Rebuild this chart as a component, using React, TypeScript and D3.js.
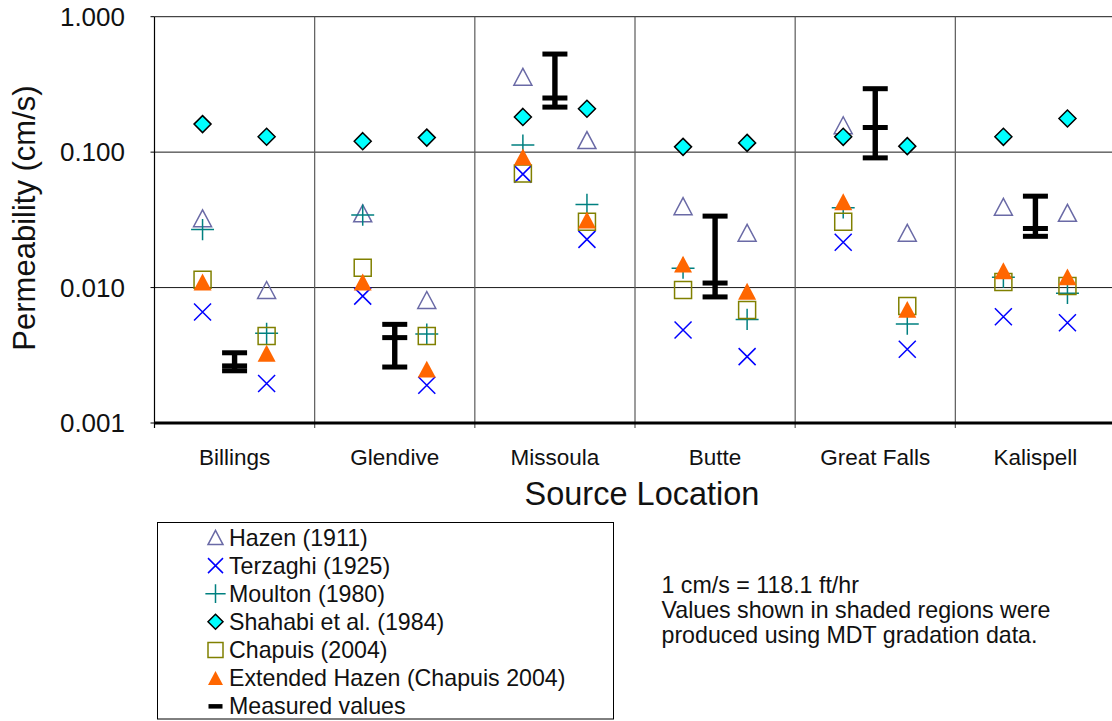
import React from "react";
import * as d3 from "d3";

// Source locations (x categories); each location has two gradation samples
const locations = ["Billings", "Glendive", "Missoula", "Butte", "Great Falls", "Kalispell"];
const sampleIndex = [0, 1];

// Predicted permeability (cm/s), two samples per location, in location order
const hazen = [0.0325, 0.0096, 0.0353, 0.0081, 0.36, 0.1227, 0.0399, 0.0254, 0.158, 0.0254, 0.0395, 0.0356];
const terzaghi = [0.0066, 0.00196, 0.00865, 0.0019, 0.0688, 0.0227, 0.00486, 0.00309, 0.0216, 0.0035, 0.00608, 0.0055];
const moulton = [0.0268, 0.00459, 0.0343, 0.00454, 0.1127, 0.0411, 0.0139, 0.00582, 0.0388, 0.00538, 0.0119, 0.00906];
const shahabi = [0.161, 0.13, 0.1205, 0.128, 0.182, 0.209, 0.1094, 0.117, 0.1297, 0.1107, 0.1297, 0.177];
const chapuis = [0.0114, 0.00439, 0.014, 0.00439, 0.0696, 0.0306, 0.0096, 0.00682, 0.0306, 0.0073, 0.011, 0.01026];
const extHazen = [0.011, 0.00327, 0.011, 0.0025, 0.0923, 0.0315, 0.0149, 0.0094, 0.043, 0.0069, 0.0133, 0.012];

// Measured permeability range per location (cm/s)
const measuredMax = [0.0033, 0.00535, 0.53, 0.0337, 0.294, 0.0473];
const measuredMid = [0.00264, 0.00427, 0.251, 0.0108, 0.152, 0.0273];
const measuredMin = [0.00243, 0.00259, 0.215, 0.00853, 0.0907, 0.0239];

// Y-axis decades
const yTicks = [0.001, 0.01, 0.1, 1];

const legendLabels = [
  "Hazen (1911)",
  "Terzaghi (1925)",
  "Moulton (1980)",
  "Shahabi et al. (1984)",
  "Chapuis (2004)",
  "Extended Hazen (Chapuis 2004)",
  "Measured values",
];

const noteLines = [
  "1 cm/s = 118.1 ft/hr",
  "Values shown in shaded regions were",
  "produced using MDT gradation data.",
];

const FONT = "'Liberation Sans', Arial, Helvetica, sans-serif";

type Kind = "triUp" | "x" | "plus" | "diamond" | "square" | "triFill" | "bar";

function markerPath(kind: Kind, s: number): string {
  const h = s / 2;
  switch (kind) {
    case "triUp":
    case "triFill":
      return `M0,${-h * 0.94}L${h},${h * 0.94}L${-h},${h * 0.94}Z`;
    case "x":
      return `M${-h},${-h}L${h},${h}M${-h},${h}L${h},${-h}`;
    case "plus":
      return `M${-h * 1.35},0L${h * 1.35},0M0,${-h * 1.25}L0,${h * 1.25}`;
    case "diamond":
      return `M0,${-h}L${h},0L0,${h}L${-h},0Z`;
    case "square":
      return `M${-h},${-h}L${h},${-h}L${h},${h}L${-h},${h}Z`;
    default:
      return "";
  }
}

const seriesDefs: { values: number[]; kind: Kind; fill: string; stroke: string; sw: number; size: number }[] = [
  { values: hazen, kind: "triUp", fill: "none", stroke: "#6a6aa6", sw: 1.5, size: 18 },
  { values: terzaghi, kind: "x", fill: "none", stroke: "#0000ff", sw: 1.5, size: 17 },
  { values: moulton, kind: "plus", fill: "none", stroke: "#008080", sw: 1.5, size: 17 },
  { values: shahabi, kind: "diamond", fill: "#00ffff", stroke: "#000000", sw: 1.5, size: 17 },
  { values: chapuis, kind: "square", fill: "none", stroke: "#808000", sw: 1.5, size: 17 },
  { values: extHazen, kind: "triFill", fill: "#ff6600", stroke: "none", sw: 0, size: 18 },
];

export default function App() {
  const W = 1112;
  const H = 721;
  const left = 154.5;
  const right = 1115.5;
  const top = 16.7;
  const bottom = 423;

  const x = d3.scaleBand<string>().domain(locations).range([left, right]).padding(0);
  const bw = x.bandwidth();
  const sampleX = d3.scalePoint<number>().domain(sampleIndex).range([-0.2 * bw, 0.2 * bw]);
  const y = d3.scaleLog().domain([0.001, 1]).range([bottom, top]);
  const fmt = d3.format(".3f");

  const posX = (i: number) => (x(locations[Math.floor(i / 2)]) as number) + bw / 2 + (sampleX(i % 2) as number);

  const dividers = locations.map((l) => x(l) as number).concat([right]);

  const capW = 25;
  const capT = 5;

  const legendX = 157.5;
  const legendY = 522.5;
  const legendW = 456;
  const legendH = 196.5;
  const legendSymX = 215.5;
  const legendTextX = 229;
  const legendBase0 = 545.5;
  const legendStep = 28.1;

  return (
    <div style={{ position: "fixed", left: 0, top: 0, width: W, height: H, background: "#fff" }}>
      <svg width={W} height={H} style={{ display: "block" }} fontFamily={FONT}>
        <rect x={0} y={0} width={W} height={H} fill="#fff" />

        {/* horizontal gridlines and top border */}
        {yTicks.slice(1).map((t) => (
          <line key={"g" + t} x1={left} x2={right} y1={y(t)} y2={y(t)} stroke="#1a1a1a" strokeWidth={1} />
        ))}

        {/* location dividers */}
        {dividers.slice(1).map((d, i) => (
          <g key={"d" + i}>
            <line x1={d} x2={d} y1={top} y2={bottom} stroke="#5a5a5a" strokeWidth={1.2} />
            <line x1={d} x2={d} y1={bottom} y2={bottom + 5} stroke="#5a5a5a" strokeWidth={1.2} />
          </g>
        ))}

        {/* axes */}
        <line x1={left} x2={left} y1={top} y2={bottom} stroke="#000" strokeWidth={1.2} />
        <line x1={left} x2={right} y1={bottom} y2={bottom} stroke="#000" strokeWidth={3} />
        <line x1={left} x2={left} y1={bottom} y2={bottom + 5} stroke="#000" strokeWidth={1.2} />
        {yTicks.map((t) => (
          <g key={"yt" + t}>
            <line x1={left - 4} x2={left} y1={y(t)} y2={y(t)} stroke="#000" strokeWidth={1} />
            <text x={125} y={y(t)} dy="0.36em" textAnchor="end" fontSize={26} fill="#111">
              {fmt(t)}
            </text>
          </g>
        ))}

        {/* category labels */}
        {locations.map((l) => (
          <text key={"xl" + l} x={(x(l) as number) + bw / 2} y={465} textAnchor="middle" fontSize={22.5} fill="#111">
            {l}
          </text>
        ))}

        <text x={642} y={505} textAnchor="middle" fontSize={32.5} fill="#111">
          Source Location
        </text>
        <text transform={`translate(35,218) rotate(-90)`} textAnchor="middle" fontSize={31} fill="#111">
          Permeability (cm/s)
        </text>

        {/* predicted values */}
        {seriesDefs.map((s, si) => (
          <g key={"s" + si}>
            {s.values.map((v, i) => (
              <path
                key={i}
                transform={`translate(${posX(i)},${y(v)})`}
                d={markerPath(s.kind, s.size)}
                fill={s.fill}
                stroke={s.stroke}
                strokeWidth={s.sw}
              />
            ))}
          </g>
        ))}

        {/* measured ranges */}
        {locations.map((l, i) => {
          const cx = (x(l) as number) + bw / 2;
          return (
            <g key={"m" + l} fill="#000">
              <rect x={cx - 2.7} y={y(measuredMax[i])} width={5.4} height={y(measuredMin[i]) - y(measuredMax[i])} />
              {[measuredMax[i], measuredMid[i], measuredMin[i]].map((v, k) => (
                <rect key={k} x={cx - capW / 2} y={y(v) - capT / 2} width={capW} height={capT} />
              ))}
            </g>
          );
        })}

        {/* legend */}
        <rect x={legendX} y={legendY} width={legendW} height={legendH} fill="none" stroke="#000" strokeWidth={1} />
        {legendLabels.map((lab, i) => {
          const by = legendBase0 + i * legendStep;
          const sy = by - 8;
          const s = seriesDefs[i];
          return (
            <g key={"lg" + i}>
              {s ? (
                <path
                  transform={`translate(${legendSymX},${sy})`}
                  d={markerPath(s.kind, 15)}
                  fill={s.fill}
                  stroke={s.stroke}
                  strokeWidth={s.sw}
                />
              ) : (
                <rect x={legendSymX - 7} y={sy - 2} width={14} height={4.5} fill="#000" />
              )}
              <text x={legendTextX} y={by} fontSize={23.2} fill="#111">
                {lab}
              </text>
            </g>
          );
        })}

        {/* notes */}
        {noteLines.map((t, i) => (
          <text key={"n" + i} x={661.5} y={593 + i * 25} fontSize={23.2} fill="#111">
            {t}
          </text>
        ))}
      </svg>
    </div>
  );
}
